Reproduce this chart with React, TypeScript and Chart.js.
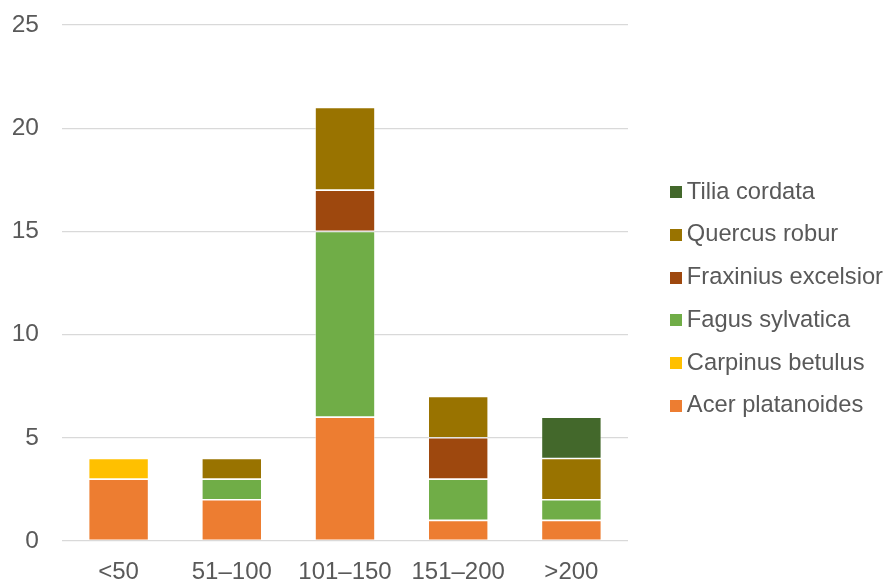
import React, { useEffect, useRef } from "react";
import { Chart, registerables } from "chart.js";

Chart.register(...registerables);

const categories = ["<50", "51–100", "101–150", "151–200", ">200"];
const seriesNames = [
  "Acer platanoides",
  "Carpinus betulus",
  "Fagus sylvatica",
  "Fraxinius excelsior",
  "Quercus robur",
  "Tilia cordata",
];
const acer = [3, 2, 6, 1, 1];
const carpinus = [1, 0, 0, 0, 0];
const fagus = [0, 1, 9, 2, 1];
const fraxinus = [0, 0, 2, 2, 0];
const quercus = [0, 1, 4, 2, 2];
const tilia = [0, 0, 0, 0, 2];
const seriesValues = [acer, carpinus, fagus, fraxinus, quercus, tilia];
const seriesColors = ["#ED7D31", "#FFC000", "#70AD47", "#9E480E", "#997300", "#43682B"];
const yTicks = [0, 5, 10, 15, 20, 25];

function makeSwatch(color: string): HTMLCanvasElement {
  const c = document.createElement("canvas");
  c.width = 42;
  c.height = 12;
  const ctx = c.getContext("2d")!;
  ctx.fillStyle = color;
  ctx.fillRect(30, 0, 12, 12);
  return c;
}

export default function App() {
  const ref = useRef<HTMLCanvasElement | null>(null);
  useEffect(() => {
    if (!ref.current) return;
    const swatches = seriesColors.map(makeSwatch);
    const chart = new Chart(ref.current, {
      type: "bar",
      data: {
        labels: categories,
        datasets: seriesNames.map((name, i) => ({
          label: name,
          data: seriesValues[i],
          backgroundColor: seriesColors[i],
          borderColor: "rgba(255,255,255,0.5)",
          borderWidth: 0.8,
          borderSkipped: false,
          categoryPercentage: 1,
          barPercentage: 0.53,
        })),
      },
      options: {
        responsive: false,
        animation: false,
        layout: { padding: { top: 17, bottom: 0, left: 0, right: 0 } },
        plugins: {
          tooltip: { enabled: false },
          legend: {
            position: "right",
            align: "center",
            maxWidth: 259,
            labels: {
              usePointStyle: true,
              pointStyleWidth: 28,
              padding: 19,
              color: "#595959",
              font: { family: "'Liberation Sans', Arial, sans-serif", size: 23.7 },
              generateLabels: () =>
                seriesNames
                  .map((name, i) => ({
                    text: name,
                    fillStyle: seriesColors[i],
                    strokeStyle: seriesColors[i],
                    lineWidth: 0,
                    pointStyle: swatches[i] as any,
                    hidden: false,
                    datasetIndex: i,
                    fontColor: "#595959",
                  }))
                  .reverse(),
            },
          },
        },
        scales: {
          x: {
            stacked: true,
            grid: { display: false, drawTicks: false },
            border: { display: false },
            ticks: {
              color: "#595959",
              padding: 17,
              font: { family: "'Liberation Sans', Arial, sans-serif", size: 24 },
            },
            afterFit: (s: any) => {
              s.height = 40;
            },
          },
          y: {
            stacked: true,
            min: 0,
            max: 25,
            afterBuildTicks: (s: any) => {
              s.ticks = yTicks.map((v) => ({ value: v }));
            },
            grid: { color: "#D9D9D9", lineWidth: 1.3, drawTicks: false },
            border: { display: false },
            ticks: {
              color: "#595959",
              padding: 23,
              font: { family: "'Liberation Sans', Arial, sans-serif", size: 24.5 },
            },
            afterFit: (s: any) => {
              s.width = 62;
              s.paddingTop = 25;
              s.paddingBottom = 0;
            },
          },
        },
      },
    });
    return () => chart.destroy();
  }, []);
  return (
    <div style={{ position: "fixed", left: 0, top: 0, width: 887, height: 581, background: "#fff" }}>
      <canvas ref={ref} width={887} height={581} style={{ display: "block" }} />
    </div>
  );
}
